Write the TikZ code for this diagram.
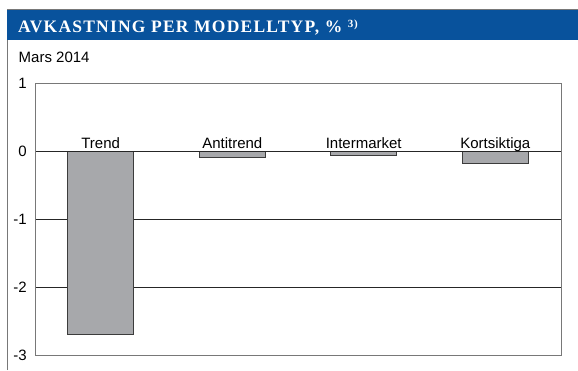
\documentclass[tikz,border=0pt]{standalone}
\usepackage{fontspec}
\setmainfont{Liberation Sans}
\newfontfamily\titlefont[LetterSpace=7]{Liberation Serif}
\definecolor{hdrblue}{RGB}{8,82,156}
\definecolor{barfill}{RGB}{167,168,171}
\definecolor{bardraw}{RGB}{60,60,60}
\definecolor{framegray}{RGB}{120,120,120}
\tikzset{
  barbox/.style={fill=barfill,draw=bardraw,line width=0.8pt},
  ticklbl/.style={anchor=east,inner sep=0pt,font=\fontsize{15}{17}\selectfont},
  barlbl/.style={anchor=base,inner sep=0pt,font=\fontsize{15}{17}\selectfont},
  gridln/.style={draw=black!85,line width=0.7pt},
}
\begin{document}
\begin{tikzpicture}[x=1pt,y=1pt]
\useasboundingbox (0,0) rectangle (578,370);
% outer frame and header
\draw[framegray,line width=0.8pt] (7,0) -- (7,360.5) -- (578,360.5);
\fill[hdrblue] (7,330) rectangle (578,360);
\node[anchor=base west,inner sep=0pt,text=white,font=\titlefont\bfseries\fontsize{17.5}{19}\selectfont] (title) at (18,337) {AVKASTNING PER MODELLTYP, \% \raisebox{5pt}{\fontsize{11}{12}\selectfont 3)}};
\node[anchor=base west,inner sep=0pt,font=\fontsize{15}{17}\selectfont] (sub) at (18.5,307.3) {Mars 2014};
\begin{scope}[yshift=218.3pt,y=68pt]
  % grid lines
  \draw[gridln] (35,-1) -- (561,-1);
  \draw[gridln] (35,-2) -- (561,-2);
  % bars
  \draw[barbox] (67.7,0) rectangle (133.7,-2.69);
  \draw[barbox] (199.3,0) rectangle (265.3,-0.08);
  \draw[barbox] (330.7,0) rectangle (396.7,-0.05);
  \draw[barbox] (462.3,0) rectangle (528.3,-0.17);
  % zero line
  \draw[black!85,line width=1.2pt] (35,0) -- (561,0);
  % plot frame
  \draw[framegray,line width=0.9pt] (35,-3) rectangle (561,1);
  % bar labels
  \node[barlbl] (l1) at (100.7,0.05) {Trend};
  \node[barlbl] (l2) at (232.3,0.05) {Antitrend};
  \node[barlbl] (l3) at (363.7,0.05) {Intermarket};
  \node[barlbl] (l4) at (495.3,0.05) {Kortsiktiga};
  % tick labels
  \node[ticklbl] (t1) at (27,1) {1};
  \node[ticklbl] (t0) at (27,0) {0};
  \node[ticklbl] (tm1) at (27,-1) {-1};
  \node[ticklbl] (tm2) at (27,-2) {-2};
  \node[ticklbl] (tm3) at (27,-3) {-3};
\end{scope}
\end{tikzpicture}
\end{document}
